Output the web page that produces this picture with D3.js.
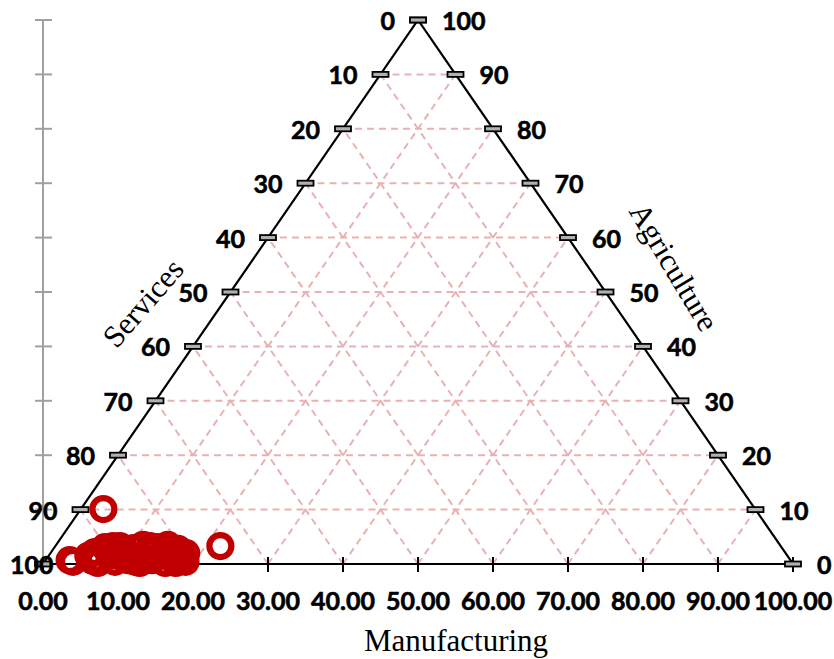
<!DOCTYPE html>
<html>
<head>
<meta charset="utf-8">
<script src="https://cdn.jsdelivr.net/npm/d3@7"></script>
<style>
  html, body { margin: 0; padding: 0; background: #fff; }
  .tick-label { font-family: Lato, "Open Sans", sans-serif; font-weight: 700; font-size: 25px; fill: #000; stroke: #000; stroke-width: 0.6px; }
  .axis-title { font-family: "Liberation Serif", "Times New Roman", serif; font-size: 31px; fill: #000; }
</style>
</head>
<body>
<div id="chart"></div>
<script>
// Ternary scatter: Agriculture (top), Manufacturing (bottom-right), Services (bottom-left).

const tickValues = [0, 10, 20, 30, 40, 50, 60, 70, 80, 90, 100];
const bottomTickLabels = ['0.00', '10.00', '20.00', '30.00', '40.00', '50.00', '60.00', '70.00', '80.00', '90.00', '100.00'];

// one entry per country, shares in percent
const agriculture = [0.7, 0.4, 1.5, 2.2, 0.7, 3.1, 1.5, 0.4, 3.3, 2.0, 0.7, 2.9, 1.3, 3.5, 2.2,
  0.7, 3.1, 1.5, 0.2, 2.4, 1.1, 2.8, 1.5, 0.4, 2.0, 0.2, 0.2, 2.4, 10.1, 3.3,
  0.6, 2.2, 3.3, 1.7, 0.9, 3.3, 2.4, 3.5, 0.2, 0.7, 0.4, 1.1];
const manufacturing = [3.2, 3.8, 5.3, 5.8, 7.2, 6.7, 8.2, 9.4, 8.6, 9.8, 11.0, 10.6, 12.0, 11.6, 12.9,
  14.2, 13.7, 14.9, 16.2, 15.7, 16.9, 16.6, 17.8, 18.8, 18.1, 7.2, 12.8, 8.8, 3.0, 22.0,
  6.3, 7.6, 7.7, 10.9, 13.3, 12.6, 14.8, 14.9, 17.6, 17.9, 12.1, 10.1];
const services = [96.1, 95.8, 93.2, 92.0, 92.1, 90.2, 90.3, 90.2, 88.1, 88.2, 88.3, 86.5, 86.7, 84.9, 84.9,
  85.1, 83.2, 83.6, 83.6, 81.9, 82.0, 80.6, 80.7, 80.8, 79.9, 92.6, 87.0, 88.8, 86.9, 74.7,
  93.1, 90.2, 89.0, 87.4, 85.8, 84.1, 82.8, 81.6, 82.2, 81.4, 87.5, 88.8];

const width = 834, height = 659;
const plotLeft = 43, plotRight = 793, plotTop = 20, plotBottom = 564;

const svg = d3.select('#chart').append('svg')
  .attr('width', width).attr('height', height);

// x: position along the base (manufacturing + half of agriculture), y: agriculture share
const xScale = d3.scaleLinear().domain([0, 100]).range([plotLeft, plotRight]);
const yScale = d3.scaleLinear().domain([0, 100]).range([plotBottom, plotTop]);

// ternary -> screen
const px = (a, m) => xScale(m + a / 2);
const py = a => yScale(a);

// gray vertical axis on the far left
const grayG = svg.append('g').attr('stroke', '#a0a0a0').attr('stroke-width', 2);
grayG.append('line')
  .attr('x1', plotLeft).attr('x2', plotLeft).attr('y1', yScale(100)).attr('y2', yScale(0));
grayG.selectAll('line.t').data(tickValues).join('line').attr('class', 't')
  .attr('x1', plotLeft - 8).attr('x2', plotLeft + 9)
  .attr('y1', d => yScale(d)).attr('y2', d => yScale(d));

// dashed grid
const grid = [];
tickValues.slice(1, -1).forEach(v => {
  grid.push([[v, 0], [v, 100 - v]]);          // constant agriculture (horizontal)
  grid.push([[0, v], [100 - v, v]]);          // constant manufacturing
  grid.push([[0, 100 - v], [100 - v, 0]]);    // constant services
});
svg.append('g').selectAll('line').data(grid).join('line')
  .attr('x1', d => px(d[0][0], d[0][1])).attr('y1', d => py(d[0][0]))
  .attr('x2', d => px(d[1][0], d[1][1])).attr('y2', d => py(d[1][0]))
  .attr('stroke', '#e8b2b2').attr('stroke-width', 2)
  .attr('stroke-dasharray', '7 5');

// triangle frame
svg.append('path')
  .attr('d', d3.line()([[px(0, 0), py(0)], [px(100, 0), py(100)], [px(0, 100), py(0)], [px(0, 0), py(0)]]))
  .attr('fill', 'none').attr('stroke', '#000').attr('stroke-width', 2.2);

// bottom ticks (manufacturing)
svg.append('g').selectAll('line').data(tickValues).join('line')
  .attr('x1', d => xScale(d)).attr('x2', d => xScale(d))
  .attr('y1', plotBottom - 7).attr('y2', plotBottom + 8)
  .attr('stroke', '#000').attr('stroke-width', 2);

// edge tick markers (left: services, right: agriculture)
const edgeTicks = [];
tickValues.forEach(v => {
  edgeTicks.push({ x: px(v, 0), y: py(v) });
  edgeTicks.push({ x: px(v, 100 - v), y: py(v) });
});
svg.append('g').selectAll('rect').data(edgeTicks).join('rect')
  .attr('x', d => d.x - 8).attr('y', d => d.y - 2.5)
  .attr('width', 16).attr('height', 5)
  .attr('fill', '#b0b0b0').attr('stroke', '#000').attr('stroke-width', 1.8);

// left labels: services share (100 at bottom)
svg.append('g').selectAll('text').data(tickValues).join('text')
  .attr('class', 'tick-label')
  .attr('x', d => d === 0 ? 10 : px(d, 0) - 23)
  .attr('y', d => py(d))
  .attr('text-anchor', d => d === 0 ? 'start' : 'end')
  .attr('dominant-baseline', 'central')
  .text(d => String(100 - d));

// right labels: agriculture share
svg.append('g').selectAll('text').data(tickValues).join('text')
  .attr('class', 'tick-label')
  .attr('x', d => px(d, 100 - d) + 24)
  .attr('y', d => py(d))
  .attr('dominant-baseline', 'central')
  .text(d => String(d));

// bottom labels
svg.append('g').selectAll('text').data(tickValues).join('text')
  .attr('class', 'tick-label')
  .attr('x', d => xScale(d))
  .attr('y', 610)
  .attr('text-anchor', 'middle')
  .text((d, i) => bottomTickLabels[i]);

// axis titles
svg.append('text').attr('class', 'axis-title')
  .attr('x', 456).attr('y', 651).attr('text-anchor', 'middle')
  .text('Manufacturing');
svg.append('text').attr('class', 'axis-title')
  .attr('transform', 'translate(143,303) rotate(-49)')
  .attr('text-anchor', 'middle').attr('dominant-baseline', 'central')
  .text('Services');
svg.append('text').attr('class', 'axis-title')
  .attr('transform', 'translate(674,267) rotate(59)')
  .attr('text-anchor', 'middle').attr('dominant-baseline', 'central')
  .text('Agriculture');

// points
svg.append('g').selectAll('circle').data(agriculture).join('circle')
  .attr('cx', (a, i) => {
    const t = a + manufacturing[i] + services[i];
    return px(a * 100 / t, manufacturing[i] * 100 / t);
  })
  .attr('cy', (a, i) => {
    const t = a + manufacturing[i] + services[i];
    return py(a * 100 / t);
  })
  .attr('r', 11)
  .attr('fill', 'none')
  .attr('stroke', '#c00000')
  .attr('stroke-width', 6.2);
</script>
</body>
</html>
